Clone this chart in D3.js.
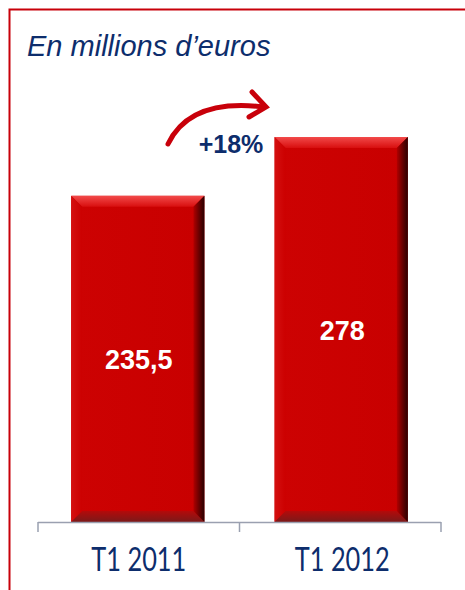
<!DOCTYPE html>
<html><head><meta charset="utf-8">
<script src="https://cdn.jsdelivr.net/npm/d3@7"></script>
<style>body{margin:0;background:#fff}svg{display:block}</style>
</head><body>
<script>
const categories = ["T1 2011", "T1 2012"];
const values = [235.5, 278];
const valueLabels = ["235,5", "278"];
const title = "En millions d\u2019euros";
const growthLabel = "+18%";

const W = 465, H = 590;
const svg = d3.select("body").append("svg").attr("width", W).attr("height", H);
const defs = svg.append("defs");

// frame
svg.append("path").attr("d", `M9.5,${H} V9.5 H${W}`).attr("fill", "none").attr("stroke", "#c8000a").attr("stroke-width", 2);

svg.append("text").attr("x", 27).attr("y", 56).text(title)
  .attr("font-family", "Liberation Sans, Arial, sans-serif").attr("font-style", "italic")
  .attr("font-size", 29).attr("fill", "#0d2d6c");

const x = d3.scaleBand().domain(categories).range([38, 441]).paddingInner(0.345).paddingOuter(0.163);
const y = d3.scaleLinear().domain([0, 278]).range([522, 137]);

function lg(id, x1, y1, x2, y2, stops) {
  const g = defs.append("linearGradient").attr("id", id).attr("x1", x1).attr("y1", y1).attr("x2", x2).attr("y2", y2);
  stops.forEach(s => g.append("stop").attr("offset", s[0]).attr("stop-color", s[1]));
}
lg("gTop", 0, 0, 0, 1, [[0, "#f24a4a"], [1, "#d80e0e"]]);
lg("gRight", 0, 0, 1, 0, [[0, "#b00000"], [0.5, "#6a0000"], [1, "#2a0000"]]);
lg("gBot", 0, 0, 0, 1, [[0, "#b40a0a"], [1, "#7a1a1a"]]);
lg("gLeft", 0, 0, 1, 0, [[0, "#d41010"], [1, "#cc0000"]]);
lg("gMain", 0, 0, 1, 0, [[0, "#cd0202"], [1, "#c80000"]]);

const bev = 11;
const bars = svg.selectAll("g.bar").data(categories).join("g").attr("class", "bar");
bars.each(function(c, i) {
  const g = d3.select(this);
  const x0 = x(c), x1 = x(c) + x.bandwidth(), y0 = y(values[i]), y1 = y(0);
  g.append("rect").attr("x", x0).attr("y", y0).attr("width", x1 - x0).attr("height", y1 - y0).attr("fill", "url(#gMain)");
  g.append("path").attr("d", `M${x0},${y0} L${x1},${y0} L${x1-bev},${y0+bev} L${x0+bev},${y0+bev} Z`).attr("fill", "url(#gTop)");
  g.append("path").attr("d", `M${x0},${y0} L${x0+bev},${y0+bev} L${x0+bev},${y1-bev} L${x0},${y1} Z`).attr("fill", "url(#gLeft)");
  g.append("path").attr("d", `M${x0},${y1} L${x0+bev},${y1-bev} L${x1-bev},${y1-bev} L${x1},${y1} Z`).attr("fill", "url(#gBot)");
  g.append("path").attr("d", `M${x1},${y0} L${x1},${y1} L${x1-bev},${y1-bev} L${x1-bev},${y0+bev} Z`).attr("fill", "url(#gRight)");
  g.append("text").attr("x", (x0 + x1) / 2 + 1).attr("y", (y0 + y1) / 2 + 10).attr("text-anchor", "middle")
    .attr("font-family", "Liberation Sans, Arial, sans-serif").attr("font-weight", "bold").attr("font-size", 27)
    .attr("fill", "#fff").text(valueLabels[i]);
});

// axis
const axisY = 522;
const tickXs = [38, (x(categories[0]) + x.bandwidth() + x(categories[1])) / 2, 441];
svg.append("line").attr("x1", 38).attr("x2", 441).attr("y1", axisY + 0.5).attr("y2", axisY + 0.5).attr("stroke", "#9aa0b0").attr("stroke-width", 1.5);
tickXs.forEach(t => svg.append("line").attr("x1", t).attr("x2", t).attr("y1", axisY).attr("y2", axisY + 10).attr("stroke", "#9aa0b0").attr("stroke-width", 1.5));
svg.selectAll("text.cat").data(categories).join("text").attr("class", "cat")
  .attr("x", d => x(d) + x.bandwidth() / 2 + 1).attr("y", 571).attr("text-anchor", "middle")
  .attr("font-family", "Lato, sans-serif").attr("font-size", 33)
  .attr("textLength", 95).attr("lengthAdjust", "spacingAndGlyphs")
  .attr("fill", "#0d2d6c").text(d => d);

// growth arrow
svg.append("path").attr("d", "M168,144 Q190,98 264,107").attr("fill", "none").attr("stroke", "#c8000a").attr("stroke-width", 5).attr("stroke-linecap", "round");
svg.append("path").attr("d", "M252,92 L266,107 L249,117").attr("fill", "none").attr("stroke", "#c8000a").attr("stroke-width", 5).attr("stroke-linecap", "round").attr("stroke-linejoin", "miter");
svg.append("text").attr("x", 231).attr("y", 153).attr("text-anchor", "middle")
  .attr("font-family", "Liberation Sans, Arial, sans-serif").attr("font-weight", "bold").attr("font-size", 25)
  .attr("fill", "#0d2d6c").text(growthLabel);
</script>
</body></html>
